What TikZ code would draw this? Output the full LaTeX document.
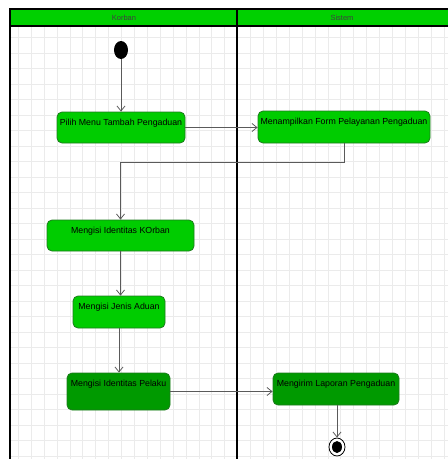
\documentclass[tikz,border=0pt]{standalone}
\usepackage{fontspec}
\setmainfont{Liberation Sans}
\usetikzlibrary{arrows.meta,shapes.geometric}
\definecolor{lanegreen}{HTML}{00D000}
\definecolor{actfill}{HTML}{00CC00}
\definecolor{actdark}{HTML}{009A00}
\definecolor{actborder}{HTML}{1E7A1E}
\definecolor{gridc}{HTML}{EBEBEB}
\definecolor{edgec}{HTML}{5A5A5A}
\tikzset{
  act/.style={draw=actborder, fill=actfill, line width=0.8pt, rounded corners=5pt,
    inner xsep=0pt, inner ysep=0pt, text height=13pt, font=\fontsize{8.8}{10}\selectfont,
    text=black},
  actd/.style={act, fill=actdark},
  flow/.style={draw=edgec, line width=0.8pt, -{Straight Barb[length=5pt,width=8pt]}},
  lanehead/.style={font=\fontsize{7.5}{8}\selectfont, text=black!75}
}
\begin{document}
\begin{tikzpicture}[x=1pt,y=-1pt]
\useasboundingbox (0,0) rectangle (448,459);
% grid
\begin{scope}
\clip (10,26) rectangle (448,459);
\foreach \i in {0,...,34} {\draw[gridc, line width=0.6pt] (18.2+12.9*\i,26) -- (18.2+12.9*\i,459);}
\foreach \j in {0,...,28} {\draw[gridc, line width=0.6pt] (10,37.3+15.5*\j) -- (448,37.3+15.5*\j);}
\end{scope}
% swimlanes
\fill[lanegreen] (10,9) rectangle (450,26);
\draw[black, line width=1.6pt] (450,9) -- (10,9) -- (10,26) -- (450,26);
\draw[black, line width=1.2pt] (10,26) -- (10,460);
\draw[black, line width=1.8pt] (237,9) -- (237,460);
\node[lanehead] (hk) at (124,17.5) {Korban};
\node[lanehead] (hs) at (342,17.5) {Sistem};
% start / end
\node[ellipse, fill=black, minimum width=14pt, minimum height=18pt, inner sep=0pt] (start) at (121,50) {};
\node[ellipse, draw=black, fill=white, line width=0.8pt, minimum width=16pt, minimum height=18pt, inner sep=0pt] (end) at (337,447) {};
\node[ellipse, fill=black, minimum width=10pt, minimum height=12pt, inner sep=0pt] (endin) at (337,447) {};
% activities
\node[act, minimum width=128pt, minimum height=31pt, text depth=18pt] (n1) at (121,127.5) {Pilih Menu Tambah Pengaduan};
\node[act, minimum width=172pt, minimum height=32pt, text depth=19pt] (n2) at (344,127) {Menampilkan Form Pelayanan Pengaduan};
\node[act, minimum width=147pt, minimum height=31pt, text depth=18pt] (n3) at (120.5,235.5) {Mengisi Identitas KOrban};
\node[act, minimum width=92pt, minimum height=32pt, text depth=19pt] (n4) at (119,312) {Mengisi Jenis Aduan};
\node[actd, minimum width=103pt, minimum height=37pt, text depth=24pt] (n5) at (118.5,391.5) {Mengisi Identitas Pelaku};
\node[actd, minimum width=126pt, minimum height=32pt, text depth=19pt] (n6) at (336,389) {Mengirim Laporan Pengaduan};
% flows
\draw[flow] (start) -- (start |- n1.north);
\draw[flow] (n1.east) -- (n1.east -| n2.west);
\draw[flow] (n2.south) -- ++(0,19) -| (n3.north);
\draw[flow] (n3.south) -- (n3.south |- n4.north);
\draw[flow] (n4.south) -- (n4.south |- n5.north);
\draw[flow] (n5.east) -- (n5.east -| n6.west);
\draw[flow] (end.north |- n6.south) -- (end.north);
\end{tikzpicture}
\end{document}
